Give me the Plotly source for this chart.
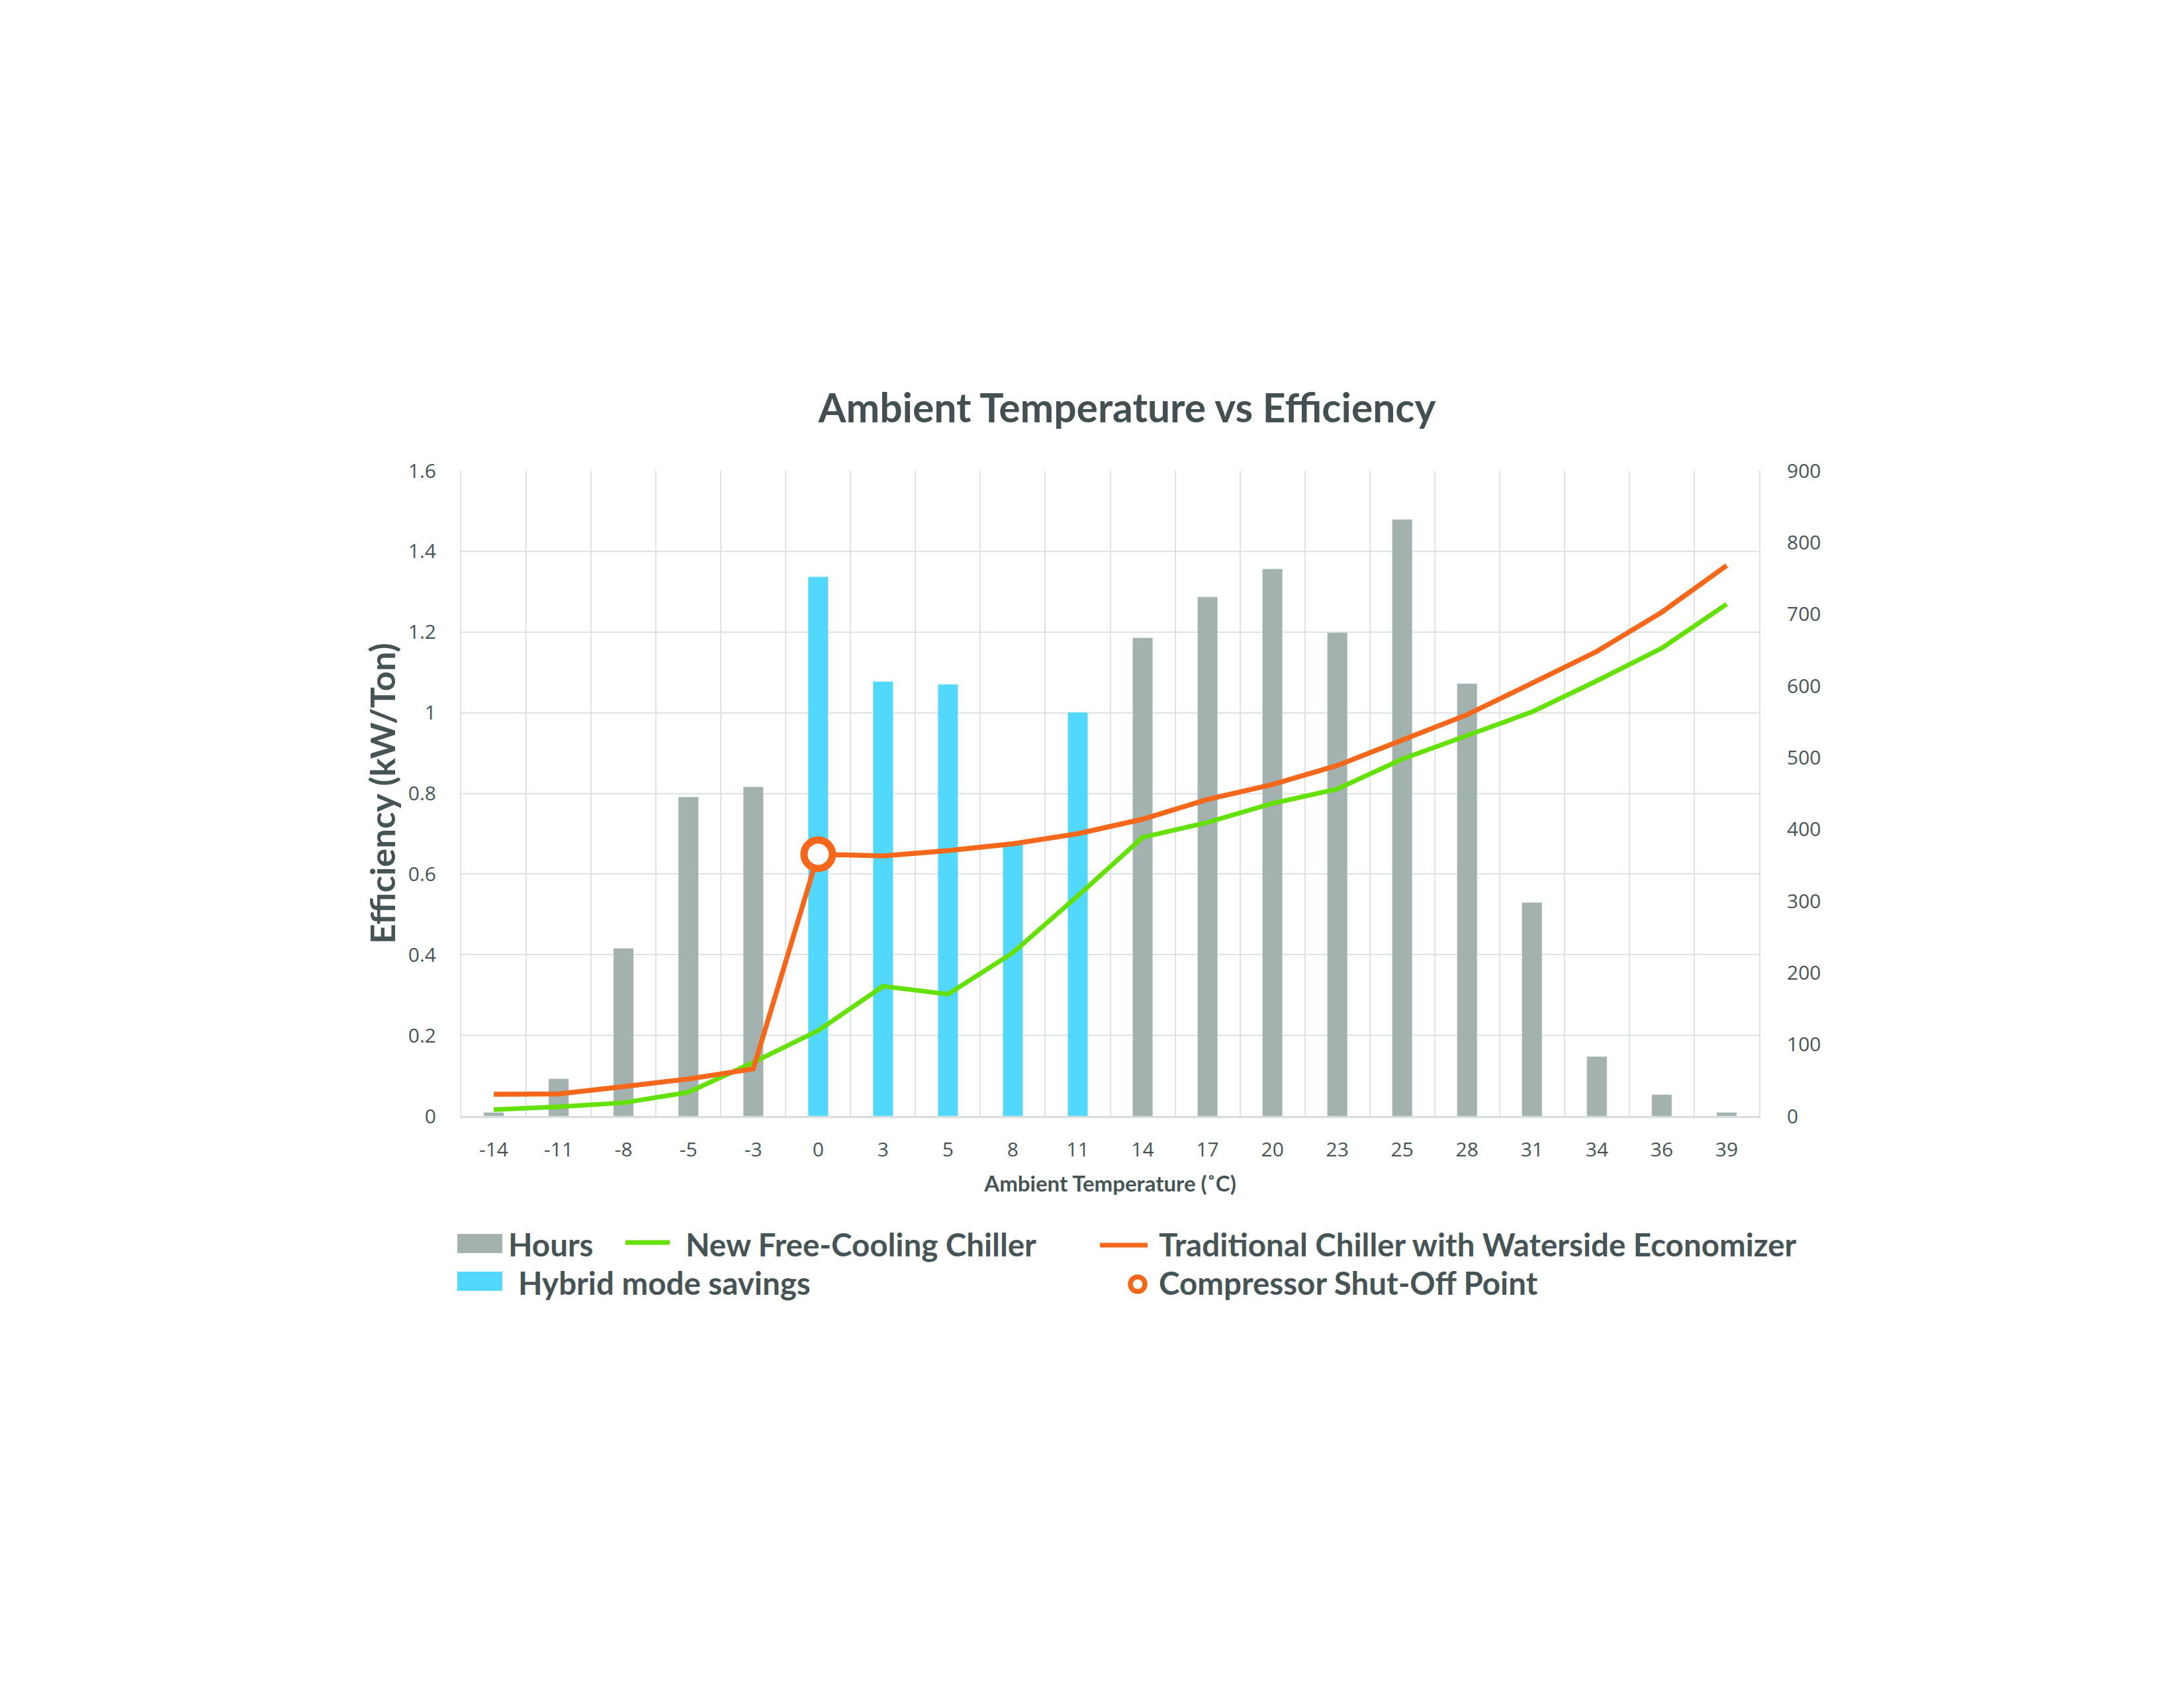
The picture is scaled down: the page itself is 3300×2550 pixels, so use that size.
import plotly.graph_objects as go

# ---------------- data ----------------
temps = ["-14", "-11", "-8", "-5", "-3", "0", "3", "5", "8", "11",
         "14", "17", "20", "23", "25", "28", "31", "34", "36", "39"]
hours = [5, 52, 234, 445, 459, 752, 606, 602, 380, 563,
         667, 724, 763, 674, 832, 603, 298, 83, 30, 5]
hybrid_temps = ["0", "3", "5", "8", "11"]
new_free_cooling = [0.016, 0.023, 0.033, 0.059, 0.133, 0.212, 0.322, 0.302, 0.405, 0.546,
                    0.691, 0.728, 0.775, 0.811, 0.885, 0.942, 1.002, 1.079, 1.160, 1.269]
traditional = [0.054, 0.055, 0.073, 0.092, 0.117, 0.649, 0.645, 0.658, 0.675, 0.700,
               0.736, 0.785, 0.822, 0.869, 0.932, 0.995, 1.073, 1.152, 1.249, 1.365]
shutoff_temp = "0"

# ---------------- style ----------------
W, H = 3300, 2550
L, R, T, B = 697, 2658, 711, 1686
GRAY = "#A3B1AF"
BLUE = "#53D8FD"
GREEN = "#64E100"
ORANGE = "#F5671A"
TEXT = "#465456"
GRID = "#DCE3E3"
TICKFONT = dict(family="Open Sans", size=30, color=TEXT)
BOLD = "Lato"


def px(x):
    return (x - L) / (R - L)


def py(y):
    return (B - y) / (B - T)


hours_gray = [None if t in hybrid_temps else h for t, h in zip(temps, hours)]
hours_blue = [h if t in hybrid_temps else None for t, h in zip(temps, hours)]
shut_idx = temps.index(shutoff_temp)

fig = go.Figure()
fig.add_trace(go.Bar(x=temps, y=hours_gray, name="Hours", marker_color=GRAY,
                     yaxis="y", showlegend=False))
fig.add_trace(go.Bar(x=temps, y=hours_blue, name="Hybrid mode savings", marker_color=BLUE,
                     yaxis="y", showlegend=False))
fig.add_trace(go.Scatter(x=temps, y=new_free_cooling, mode="lines", name="New Free-Cooling Chiller",
                         line=dict(color=GREEN, width=7), yaxis="y2", showlegend=False))
fig.add_trace(go.Scatter(x=temps, y=traditional, mode="lines",
                         name="Traditional Chiller with Waterside Economizer",
                         line=dict(color=ORANGE, width=7.5), yaxis="y2", showlegend=False))
fig.add_trace(go.Scatter(x=[temps[shut_idx]], y=[traditional[shut_idx]], mode="markers",
                         name="Compressor Shut-Off Point",
                         marker=dict(symbol="circle", size=43, color="white",
                                     line=dict(color=ORANGE, width=11)),
                         yaxis="y2", showlegend=False))

fig.update_layout(
    width=W, height=H,
    margin=dict(l=L, r=W - R, t=T, b=H - B, pad=0),
    paper_bgcolor="white", plot_bgcolor="white",
    barmode="overlay", bargap=0.69,
    showlegend=False,
    title=dict(text="Ambient Temperature vs Efficiency", x=1703 / W, y=1 - 617 / H,
               xref="container", yref="container", xanchor="center", yanchor="middle",
               font=dict(family=BOLD, size=60.5, color="#444F51", weight="bold")),
    xaxis=dict(type="category", tickson="boundaries", showgrid=True, gridcolor=GRID, gridwidth=2,
               ticks="", tickfont=TICKFONT, ticklabelstandoff=22,
               showline=True, linecolor="#D7DEDE", linewidth=3, mirror=False,
               title=dict(text="Ambient Temperature (˚C)", standoff=22,
                          font=dict(family=BOLD, size=33, color=TEXT, weight="bold"))),
    yaxis=dict(side="right", range=[0, 900], dtick=100, showgrid=False, zeroline=False,
               ticks="", tickfont=TICKFONT, ticklabelstandoff=34,
               showline=True, linecolor=GRID, linewidth=2),
    yaxis2=dict(side="left", overlaying="y", range=[0, 1.6], dtick=0.2, showgrid=True,
                gridcolor=GRID, gridwidth=2, zeroline=False,
                ticks="", tickfont=TICKFONT, ticklabelstandoff=30,
                showline=True, linecolor=GRID, linewidth=2,
                title=dict(text="Efficiency (kW/Ton)", standoff=2,
                           font=dict(family=BOLD, size=52.5, color=TEXT, weight="bold"))),
)

# ---------------- legend (drawn manually) ----------------
shapes = [
    dict(type="rect", xref="paper", yref="paper", x0=px(691), x1=px(759), y0=py(1893), y1=py(1864),
         fillcolor=GRAY, line=dict(width=0)),
    dict(type="rect", xref="paper", yref="paper", x0=px(691), x1=px(759), y0=py(1950), y1=py(1921),
         fillcolor=BLUE, line=dict(width=0)),
    dict(type="line", xref="paper", yref="paper", x0=px(945), x1=px(1012), y0=py(1877), y1=py(1877),
         line=dict(color=GREEN, width=7)),
    dict(type="line", xref="paper", yref="paper", x0=px(1662), x1=px(1734), y0=py(1881), y1=py(1881),
         line=dict(color=ORANGE, width=7)),
    dict(type="circle", xref="paper", yref="paper", x0=px(1708), x1=px(1730), y0=py(1951), y1=py(1929),
         fillcolor="white", line=dict(color=ORANGE, width=7.5)),
]
leg_font = dict(family=BOLD, size=47.5, color=TEXT, weight="bold")
legend_items = [
    ("Hours", 766, 1879),
    ("New Free-Cooling Chiller", 1034, 1879),
    ("Traditional Chiller with Waterside Economizer", 1749, 1879),
    ("Hybrid mode savings", 781, 1937),
    ("Compressor Shut-Off Point", 1749, 1937),
]
annotations = [dict(text=t, x=px(x), y=py(y), xref="paper", yref="paper", xanchor="left",
                    yanchor="middle", showarrow=False, font=leg_font) for t, x, y in legend_items]
fig.update_layout(shapes=shapes, annotations=annotations)

fig.write_html("out.html")
